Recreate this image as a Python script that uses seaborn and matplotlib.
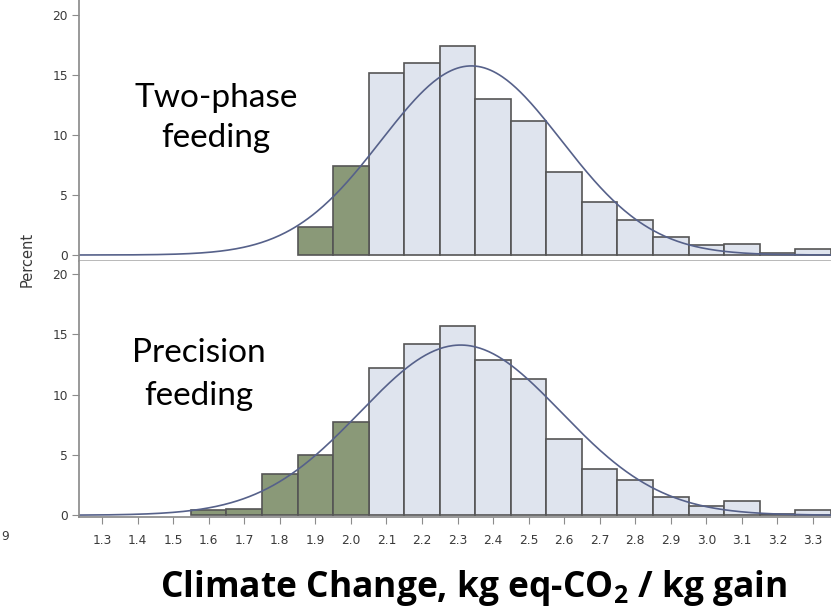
import numpy as np
import pandas as pd
import matplotlib
matplotlib.use("Agg")
import matplotlib.pyplot as plt
import seaborn as sns

# ---------------- data ----------------
top_bins = [1.9, 2.0, 2.1, 2.2, 2.3, 2.4, 2.5, 2.6, 2.7, 2.8, 2.9, 3.0, 3.1, 3.2, 3.3]
top_pct = [2.3, 7.4, 15.2, 16.0, 17.4, 13.0, 11.2, 6.9, 4.4, 2.9, 1.5, 0.8, 0.9, 0.2, 0.5]

bottom_bins = [1.6, 1.7, 1.8, 1.9, 2.0, 2.1, 2.2, 2.3, 2.4, 2.5, 2.6, 2.7, 2.8, 2.9, 3.0, 3.1, 3.2, 3.3]
bottom_pct = [0.4, 0.5, 3.4, 5.0, 7.7, 12.2, 14.2, 15.7, 12.9, 11.3, 6.3, 3.8, 2.9, 1.5, 0.8, 1.2, 0.1, 0.4]

x_ticks = [1.3, 1.4, 1.5, 1.6, 1.7, 1.8, 1.9, 2.0, 2.1, 2.2, 2.3, 2.4, 2.5, 2.6, 2.7, 2.8, 2.9, 3.0, 3.1, 3.2, 3.3]
x_tick_labels = ["1.3", "1.4", "1.5", "1.6", "1.7", "1.8", "1.9", "2.0", "2.1", "2.2", "2.3",
                 "2.4", "2.5", "2.6", "2.7", "2.8", "2.9", "3.0", "3.1", "3.2", "3.3"]
y_ticks = [0, 5, 10, 15, 20]
green_limit = 2.05          # bins below this value are highlighted
bin_width = 0.1

panel_titles = [("Two-phase", "feeding"), ("Precision", "feeding")]
x_label = r"Climate Change, kg eq-CO$_{2}$ / kg gain"

# ---------------- style ----------------
sns.set_theme(style="white")
plt.rcParams["font.family"] = ["DejaVu Sans"]
plt.rcParams["mathtext.fontset"] = "custom"
plt.rcParams["mathtext.rm"] = "Open Sans:bold"
plt.rcParams["mathtext.it"] = "Open Sans:bold"
plt.rcParams["mathtext.bf"] = "Open Sans:bold"

GREEN = "#8a9978"
LIGHT = "#dfe4ee"
EDGE = "#555555"
CURVE = "#56618a"
AXIS = "#8c8c8c"
TICKTXT = "#3a3a3a"

W, H = 831, 609
fig = plt.figure(figsize=(W / 100, H / 100), dpi=100)

left = 79 / W
split = 1 - 261 / H
bottom = 1 - 517 / H
ax_top = fig.add_axes([left, split, 1 - left, 1 - split])
ax_bot = fig.add_axes([left, bottom, 1 - left, split - bottom])

xlim = (1.2353, 3.3506)


def draw_panel(ax, bins, pct, ylim):
    df = pd.DataFrame({"x": bins, "pct": pct})
    df["grp"] = np.where(df["x"] < green_limit, "low", "high")
    for grp, col in [("high", LIGHT), ("low", GREEN)]:
        sub = df[df["grp"] == grp]
        lo = sub["x"].min() - bin_width / 2
        hi = sub["x"].max() + bin_width / 2
        sns.histplot(data=sub, x="x", weights="pct", binwidth=bin_width,
                     binrange=(lo, hi), stat="count",
                     color=col, alpha=1, edgecolor=EDGE, linewidth=1.2, ax=ax)
    # fitted normal curve from the histogram itself
    w = np.array(pct, dtype=float)
    xs = np.array(bins, dtype=float)
    mu = np.sum(w * xs) / np.sum(w)
    sd = np.sqrt(np.sum(w * (xs - mu) ** 2) / np.sum(w))
    gx = np.linspace(xlim[0], xlim[1], 500)
    gy = 100 * bin_width * np.exp(-0.5 * ((gx - mu) / sd) ** 2) / (sd * np.sqrt(2 * np.pi))
    sns.lineplot(x=gx, y=gy, color=CURVE, linewidth=1.2, ax=ax)
    ax.set_xlim(*xlim)
    ax.set_ylim(*ylim)
    ax.set_yticks(y_ticks)
    ax.set_yticklabels([str(v) for v in y_ticks])
    ax.set_xlabel("")
    ax.set_ylabel("")
    for s in ["top", "right"]:
        ax.spines[s].set_visible(False)
    ax.spines["left"].set_color(AXIS)
    ax.spines["bottom"].set_color("#b0b0b0")
    ax.tick_params(axis="y", left=True, length=5, width=0.8, color=AXIS,
                   labelsize=8.8, labelcolor=TICKTXT, pad=3)
    ax.set_facecolor("white")


draw_panel(ax_top, top_bins, top_pct, (-0.5, 21.25))
draw_panel(ax_bot, bottom_bins, bottom_pct, (-0.15, 21.1))

ax_top.set_xticks([])
ax_bot.set_xticks(x_ticks)
ax_bot.set_xticklabels(x_tick_labels)
ax_bot.tick_params(axis="x", bottom=True, length=5, width=0.8, color=AXIS,
                   labelsize=8.8, labelcolor=TICKTXT, pad=7)
ax_bot.spines["bottom"].set_color(AXIS)

# panel annotations
tfont = dict(family="Lato", fontsize=24, color="black", ha="center", va="baseline")
fig.text(216 / W, 1 - 107 / H, panel_titles[0][0], **tfont)
fig.text(216 / W, 1 - 147 / H, panel_titles[0][1], **tfont)
fig.text(199 / W, 1 - 362 / H, panel_titles[1][0], **tfont)
fig.text(199 / W, 1 - 405 / H, panel_titles[1][1], **tfont)

# shared y label and x label
fig.text(27 / W, 1 - 259 / H, "Percent", rotation=90, ha="center", va="center",
         fontsize=10.5, color=TICKTXT)
fig.text(474 / W, 1 - 597 / H, x_label, family="Open Sans", fontweight="bold",
         fontsize=25.5, color="black", ha="center", va="baseline")

# fragment of neighbouring panel's tick label at the left edge
fig.text(1 / W, 1 - 536 / H, "9", ha="left", va="center", fontsize=8.8, color=TICKTXT)

fig.savefig("out.png", dpi=100, facecolor="white")
